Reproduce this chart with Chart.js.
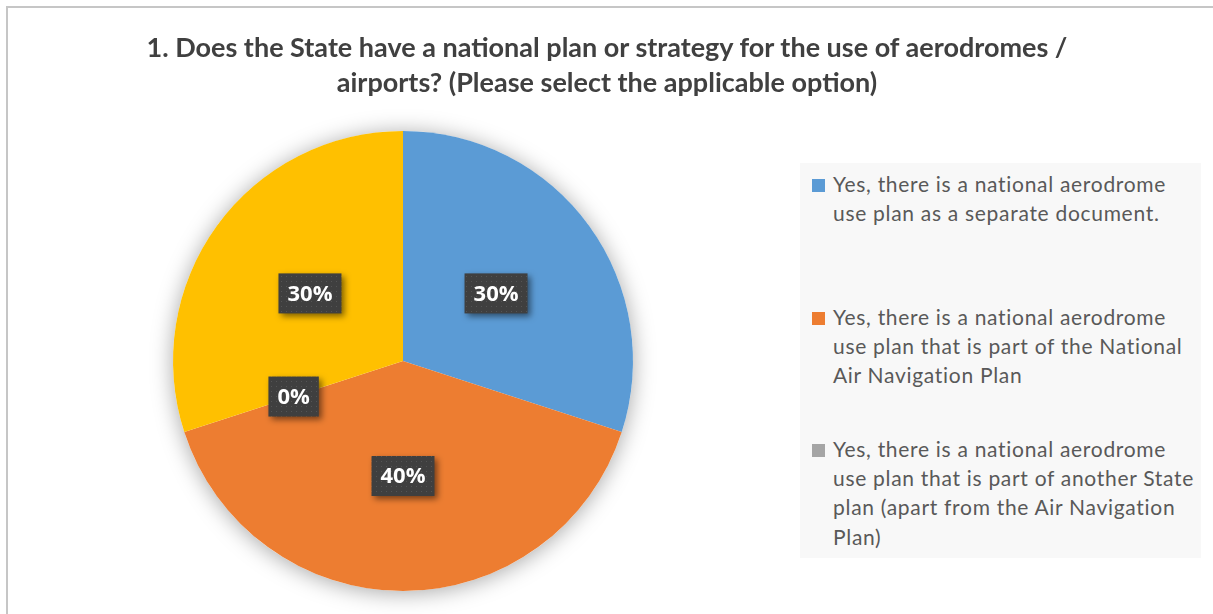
<!DOCTYPE html>
<html>
<head>
<meta charset="utf-8">
<script src="https://cdn.jsdelivr.net/npm/chart.js@4"></script>
<style>
    html, body { margin: 0; padding: 0; background: #fff; overflow: hidden; }
    #wrap { position: relative; width: 1213px; height: 614px; }
    #frame {
        position: absolute; left: 6px; top: 6px; width: 1300px; height: 700px;
        border-left: 2px solid #c6c6c6; border-top: 2px solid #c6c6c6;
    }
    #title {
        position: absolute; left: 0; top: 29px; width: 1214px;
        text-align: center; font: bold 27px Lato, sans-serif; line-height: 35px; color: #404040;
    }
    #legend {
        position: absolute; left: 800px; top: 163px; width: 401px; height: 395px;
        background: #f8f8f8; overflow: hidden;
    }
    .item { position: relative; height: 132.5px; }
    .item:first-child { margin-top: 6px; }
    .swatch { position: absolute; left: 12px; top: 10px; width: 13px; height: 13px; }
    .text {
        position: absolute; left: 33px; top: 0; white-space: nowrap;
        font: 21px Lato, sans-serif; line-height: 29.2px; color: #595959; letter-spacing: 0.7px;
    }
    canvas { position: absolute; left: 0; top: 0; }
</style>
</head>
<body>
<div id="wrap">
    <div id="frame"></div>
    <canvas id="pie" width="1213" height="614"></canvas>
    <div id="title">1. Does the State have a national plan or strategy for the use of aerodromes /<br>airports? (Please select the applicable option)</div>
    <div id="legend"></div>
</div>
<script>
// --- data ---
const categories = [
    ['Yes, there is a national aerodrome', 'use plan as a separate document.'],
    ['Yes, there is a national aerodrome', 'use plan that is part of the National', 'Air Navigation Plan'],
    ['Yes, there is a national aerodrome', 'use plan that is part of another State', 'plan (apart from the Air Navigation', 'Plan)'],
    ['No']
];
const shares = [30, 40, 0, 30]; // percent of answers
const sliceColors = ['#5B9BD5', '#ED7D31', '#A5A5A5', '#FFC000'];

// dotted fill used behind the percentage labels
function dotPattern(ctx) {
    const c = document.createElement('canvas');
    c.width = 5; c.height = 5;
    const p = c.getContext('2d');
    p.fillStyle = '#3f3f3f';
    p.fillRect(0, 0, 5, 5);
    p.fillStyle = '#555555';
    p.fillRect(1, 1, 1, 1);
    return ctx.createPattern(c, 'repeat');
}

// soft grey glow under the whole pie
const pieShadow = {
    id: 'pieShadow',
    beforeDatasetsDraw(chart) {
        const arc = chart.getDatasetMeta(0).data[0];
        if (!arc) return;
        const ctx = chart.ctx;
        ctx.save();
        ctx.shadowColor = 'rgba(0,0,0,0.35)';
        ctx.shadowBlur = 22;
        ctx.shadowOffsetY = 2;
        ctx.fillStyle = '#ffffff';
        ctx.beginPath();
        ctx.arc(arc.x, arc.y, arc.outerRadius, 0, Math.PI * 2);
        ctx.fill();
        ctx.restore();
    }
};

// dark boxed percentage labels at the middle of each slice
const valueLabels = {
    id: 'valueLabels',
    afterDatasetsDraw(chart) {
        const ctx = chart.ctx;
        const total = shares.reduce((a, b) => a + b, 0);
        const fill = dotPattern(ctx);
        ctx.save();
        ctx.font = 'bold 22px "Open Sans"';
        ctx.textAlign = 'center';
        ctx.textBaseline = 'middle';
        chart.getDatasetMeta(0).data.forEach((arc, i) => {
            const pos = arc.tooltipPosition();
            const text = Math.round(shares[i] / total * 100) + '%';
            const w = ctx.measureText(text).width + 18;
            const h = 40;
            ctx.save();
            ctx.shadowColor = 'rgba(0,0,0,0.5)';
            ctx.shadowBlur = 6;
            ctx.shadowOffsetX = 3;
            ctx.shadowOffsetY = 3;
            ctx.fillStyle = fill;
            ctx.fillRect(pos.x - w / 2, pos.y - h / 2, w, h);
            ctx.restore();
            ctx.fillStyle = '#ffffff';
            ctx.fillText(text, pos.x, pos.y + 1);
        });
        ctx.restore();
    }
};

new Chart(document.getElementById('pie'), {
    type: 'pie',
    data: {
        labels: categories,
        datasets: [{
            data: shares,
            backgroundColor: sliceColors,
            borderWidth: 0,
            hoverOffset: 0
        }]
    },
    options: {
        responsive: false,
        animation: false,
        events: [],
        layout: { padding: { top: 131, bottom: 23, left: 173, right: 580 } },
        plugins: {
            legend: { display: false },
            tooltip: { enabled: false }
        }
    },
    plugins: [pieShadow, valueLabels]
});

// legend built from the same arrays; the box clips whatever does not fit
const legendEl = document.getElementById('legend');
categories.forEach((lines, i) => {
    const item = document.createElement('div');
    item.className = 'item';
    item.innerHTML = `<span class="swatch" style="background:${sliceColors[i]}"></span>` +
        `<span class="text">${lines.join('<br>')}</span>`;
    legendEl.appendChild(item);
});
</script>
</body>
</html>
